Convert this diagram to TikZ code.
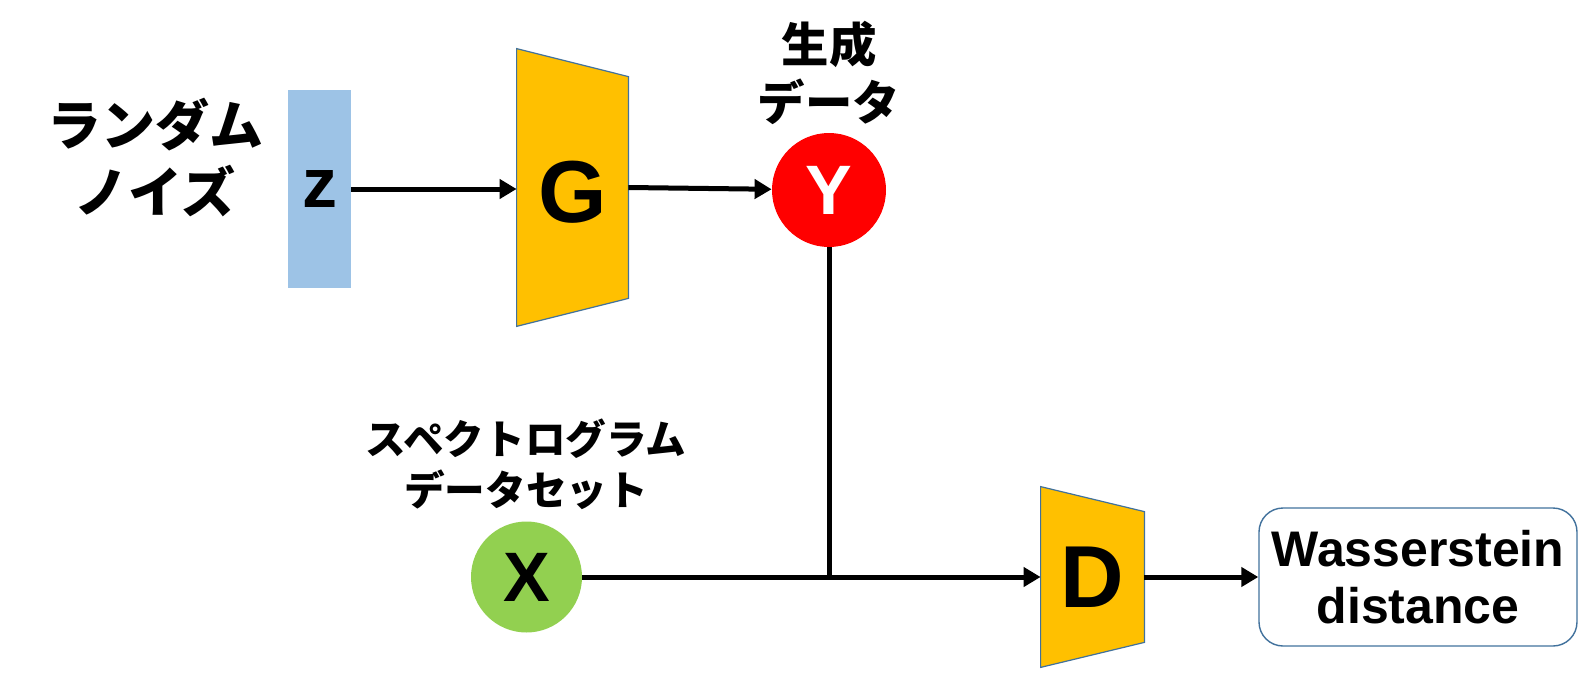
\documentclass[tikz,border=0pt]{standalone}
\usepackage{fontspec}
\setmainfont{Liberation Sans}
\newfontfamily\jpfont{Noto Sans CJK JP}
\usetikzlibrary{arrows.meta, positioning}
\definecolor{noiseblue}{HTML}{9DC3E6}
\definecolor{netorange}{HTML}{FFC000}
\definecolor{edgeblue}{HTML}{41719C}
\definecolor{realgreen}{HTML}{92D050}

\begin{document}
\begin{tikzpicture}[x=0.5pt, y=-0.5pt,
    noise/.style={rectangle, fill=noiseblue, minimum width=31.5pt, minimum height=99pt, font=\fontsize{35}{35}\selectfont\bfseries},
    netbox/.style={rectangle, inner sep=0pt},
    netname/.style={font=\fontsize{44}{44}\selectfont\bfseries},
    trap/.style={draw=edgeblue, fill=netorange, line width=0.6pt},
    sample/.style={circle, minimum size=57pt, inner sep=0pt, font=\fontsize{35}{35}\selectfont\bfseries},
    result/.style={rectangle, draw=edgeblue, line width=0.7pt, rounded corners=12pt, minimum width=159pt, minimum height=69pt, align=center, font=\fontsize{25}{28.5}\selectfont\bfseries},
    caption/.style={align=center, inner sep=0pt},
    arrow/.style={-{Triangle[length=8.5pt, width=9.5pt]}, line width=2.5pt},
    link/.style={line width=2.5pt}
]
\useasboundingbox (0,0) rectangle (1596,680);

% Noise input
\node[noise] (z) at (319.5,189) {z};
\node[caption, font=\jpfont\bfseries\fontsize{27}{33.5}\selectfont] (noiselabel) at (155,158) {ランダム\\ノイズ};

% Generator
\node[netbox, minimum width=55.5pt, minimum height=138.5pt] (G) at (572.5,187.5) {};
\draw[trap] (G.north west) -- ([yshift=-14pt]G.north east) -- ([yshift=14pt]G.south east) -- (G.south west) -- cycle;
\node[netname, yshift=-2.5pt] (Gname) at (G) {G};

% Generated sample
\node[sample, fill=red, text=white] (Y) at (829,190) {Y};
\node[caption, font=\jpfont\bfseries\fontsize{23.7}{29}\selectfont] (Ylabel) at (829,73) {生成\\データ};

% Real sample
\node[sample, fill=realgreen, minimum size=55.5pt] (X) at (526.5,577) {X};
\node[caption, font=\jpfont\bfseries\fontsize{20.3}{25.5}\selectfont] (Xlabel) at (526,464.5) {スペクトログラム\\データセット};

% Discriminator
\node[netbox, minimum width=51.5pt, minimum height=90pt] (D) at (1092.5,577) {};
\draw[trap] (D.north west) -- ([yshift=-12.5pt]D.north east) -- ([yshift=12.5pt]D.south east) -- (D.south west) -- cycle;
\node[netname] (Dname) at (D) {D};

% Output
\node[result] (W) at (1418,577) {Wasserstein\\distance};

\draw[arrow] (z.east) -- (z.east -| G.west);
\draw[arrow] (G.east) -- (Y);
\draw[link] (Y.south) -- (Y.south |- X.east);
\draw[arrow] (X) -- (D);
\draw[arrow] (D) -- (W);

\end{tikzpicture}
\end{document}
